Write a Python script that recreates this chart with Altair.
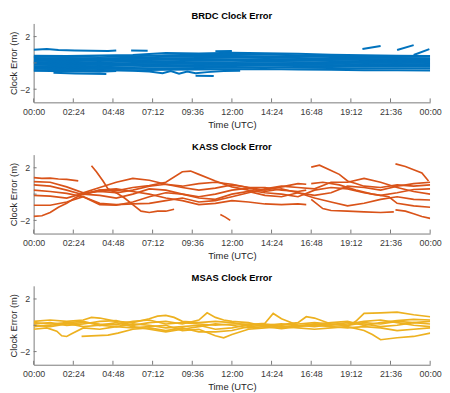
import altair as alt
import pandas as pd

# ---------------- data ----------------
X_TICKS = [0, 2.4, 4.8, 7.2, 9.6, 12, 14.4, 16.8, 19.2, 21.6, 24]
Y_TICKS = [-2, 0, 2]

BAND_HOURS = [0, 2, 4, 6, 8, 10, 12, 14, 16, 18, 20, 22, 24]
BRDC_B01 = [0.55, 0.52, 0.56, 0.60, 0.75, 0.72, 0.78, 0.74, 0.70, 0.62, 0.58, 0.55, 0.52]
BRDC_B02 = [0.45, 0.48, 0.44, 0.50, 0.58, 0.62, 0.60, 0.64, 0.58, 0.52, 0.50, 0.46, 0.48]
BRDC_B03 = [0.35, 0.38, 0.34, 0.40, 0.46, 0.50, 0.52, 0.48, 0.50, 0.44, 0.40, 0.38, 0.36]
BRDC_B04 = [0.25, 0.22, 0.28, 0.30, 0.36, 0.38, 0.40, 0.42, 0.38, 0.34, 0.30, 0.28, 0.30]
BRDC_B05 = [0.15, 0.18, 0.14, 0.20, 0.24, 0.28, 0.26, 0.30, 0.28, 0.24, 0.22, 0.18, 0.20]
BRDC_B06 = [0.05, 0.08, 0.04, 0.10, 0.12, 0.16, 0.18, 0.16, 0.18, 0.14, 0.10, 0.12, 0.10]
BRDC_B07 = [-0.05, -0.02, -0.06, 0.00, 0.02, 0.05, 0.06, 0.08, 0.06, 0.04, 0.00, 0.02, 0.00]
BRDC_B08 = [-0.15, -0.12, -0.16, -0.10, -0.08, -0.05, -0.04, -0.02, -0.04, -0.06, -0.10, -0.08, -0.10]
BRDC_B09 = [-0.25, -0.22, -0.26, -0.20, -0.18, -0.16, -0.14, -0.12, -0.14, -0.16, -0.20, -0.18, -0.20]
BRDC_B10 = [-0.35, -0.32, -0.36, -0.32, -0.28, -0.26, -0.24, -0.22, -0.24, -0.26, -0.30, -0.28, -0.30]
BRDC_B11 = [-0.45, -0.42, -0.46, -0.44, -0.40, -0.38, -0.36, -0.34, -0.36, -0.38, -0.42, -0.40, -0.42]
BRDC_B12 = [-0.55, -0.52, -0.56, -0.55, -0.52, -0.50, -0.48, -0.46, -0.50, -0.52, -0.56, -0.55, -0.58]

BRDC_O1 = [(0, 1.0), (0.8, 1.06), (1.5, 0.98), (2.5, 0.95), (3.5, 0.92), (4.5, 0.9), (5.0, 0.95)]
BRDC_O2 = [(5.9, 0.95), (6.9, 0.92)]
BRDC_O3 = [(0, -0.6), (1, -0.62), (2, -0.65), (3, -0.65), (4, -0.68), (5, -0.62)]
BRDC_O4 = [(1.2, -0.75), (2.5, -0.8), (3.5, -0.82), (4.4, -0.85)]
BRDC_O5 = [(5.0, -0.55), (6.0, -0.6), (7.0, -0.65), (7.8, -0.78), (8.3, -0.62), (8.8, -0.82),
           (9.3, -0.65), (9.8, -0.78), (10.5, -0.7), (11.5, -0.62), (12.5, -0.6)]
BRDC_O6 = [(9.8, -0.98), (10.9, -1.0)]
BRDC_O7 = [(11.0, 0.88), (12.0, 0.9)]
BRDC_O8 = [(19.9, 1.06), (21.0, 1.28)]
BRDC_O9 = [(22.0, 0.98), (23.0, 1.35)]
BRDC_O10 = [(23.0, 0.6), (23.95, 1.05)]

KASS_1 = [(0, 1.25), (0.5, 1.2), (1, 1.22), (1.5, 1.15), (2, 1.12), (2.7, 1.0)]
KASS_2 = [(0, 0.95), (1, 0.9), (2, 0.55), (3, 0.1), (4, 0.5), (5, 0.9), (6, 1.2), (7, 1.05),
          (8, 0.75), (9, 0.5), (10, 0.3), (11, 0.45), (12, 0.7), (13, 0.5), (14, 0.3),
          (15, 0.55), (16, 0.8), (16.5, 0.75)]
KASS_3 = [(0, 0.7), (1, 0.6), (2, 0.3), (3, -0.05), (4, 0.3), (5, 0.25), (6, 0.5), (7, 0.65),
          (8, 0.9), (9, 1.7), (9.5, 1.75), (10, 1.5), (11, 1.0), (12, 0.55), (13, 0.3), (14, 0.1),
          (15, 0.0), (16, -0.2), (17, 0.3), (18, 0.5), (19, 0.4), (20, 0.1), (21, -0.1), (22, 0.1),
          (23, 0.35), (24, 0.4)]
KASS_4 = [(0, 0.3), (1, 0.2), (2, 0.05), (3, -0.2), (4, -0.7), (5, -0.8), (6, -0.75), (7, -0.7),
          (8, -0.5), (9, -0.3), (10, -0.6), (11, -0.5), (12, -0.2), (13, 0.1), (14, 0.4), (15, 0.6),
          (16, 0.5), (17, 0.4), (18, 0.9), (19, 0.9), (20, 1.2), (21, 0.9), (22, 0.5), (23, 0.2),
          (24, 0.0)]
KASS_5 = [(0, -0.1), (1, -0.15), (2, -0.3), (3, 0.05), (4, 0.2), (5, 0.1), (5.5, -0.3), (6, -0.8),
          (6.5, -1.3), (7, -1.4), (7.5, -1.3), (8, -1.3), (8.5, -1.15)]
KASS_6 = [(0, -1.7), (0.5, -1.65), (1, -1.4), (1.5, -1.0), (2, -0.7), (2.5, -0.3), (3, 0.0), (4, 0.3),
          (5, 0.4), (6, 0.2), (7, 0.0), (8, -0.3), (9, -0.5), (10, -0.8), (11, -0.7), (12, -0.5),
          (13, -0.6), (14, -0.75), (15, -0.8), (16, -0.75), (16.5, -0.8)]
KASS_7 = [(0, -0.85), (1, -0.85), (2, -0.6), (3, -0.2), (4, -0.8), (5, -0.85), (6, -0.6), (7, -0.2),
          (8, 0.1), (9, 0.0), (10, -0.3), (11, -0.4), (12, 0.0), (13, 0.2), (14, -0.1), (15, -0.2),
          (16, 0.1), (17, -0.3), (18, -0.6), (19, -0.9), (20, -0.7), (21, -0.4), (22, -0.2),
          (23, -0.4), (24, -0.45)]
KASS_8 = [(3.5, 2.15), (3.8, 1.7), (4.2, 1.0), (4.5, 0.4), (5, 0.1), (6, 0.3), (7, 0.6), (8, 0.75),
          (9, 0.6), (10, 0.8), (11, 0.9), (12, 0.75), (13, 0.5), (14, 0.5), (15, 0.3), (16, 0.2),
          (16.5, 0.3)]
KASS_9 = [(3, 0.0), (4, -0.1), (5, -0.3), (6, 0.0), (7, 0.4), (8, 0.3), (9, 0.0), (10, -0.2),
          (11, 0.0), (12, 0.3), (13, 0.45), (14, 0.2), (15, 0.4), (16, 0.1), (17, -0.1), (18, 0.1),
          (19, 0.6), (20, 0.5), (21, 0.3), (22, 0.6), (23, 0.8), (24, 0.9)]
KASS_10 = [(11.3, -1.55), (11.6, -1.75), (11.9, -2.0)]
KASS_12 = [(16.8, 2.05), (17.3, 2.2), (18, 1.8), (18.5, 1.5), (19, 1.0), (19.5, 0.8), (20, 0.6),
           (21, 0.5), (22, 0.7), (23, 0.6), (24, 0.7)]
KASS_13 = [(16.8, -0.4), (17.5, -1.1), (18, -1.25), (19, -1.3), (20, -1.35), (21, -1.4), (21.8, -1.35)]
KASS_14 = [(21.9, -1.2), (22.5, -1.3), (23, -1.5), (23.5, -1.7), (24, -1.85)]
KASS_15 = [(21.9, 2.3), (22.5, 2.1), (23, 1.85), (23.5, 1.6), (23.9, 1.0)]
KASS_16 = [(16.8, 0.8), (17.5, 0.9), (18.5, 0.7), (19.5, 0.3), (20.5, 0.0), (21.5, -0.2), (22, -0.7),
           (23, -0.9), (24, -1.0)]

MSAS_1 = [(0, 0.3), (1, 0.4), (2, 0.3), (3, 0.4), (3.5, 0.6), (4, 0.55), (5, 0.3), (6, 0.2), (7, 0.5),
          (7.5, 0.7), (8, 0.75), (8.5, 0.6), (9, 0.3), (10, 0.2), (11, 0.3), (12, 0.2), (13, 0.0),
          (14, 0.1), (15, 0.0), (16, 0.1), (17, 0.2), (18, 0.1), (19, 0.0), (20, 0.2), (21, 0.1),
          (22, 0.3), (23, 0.2), (24, 0.3)]
MSAS_2 = [(0, 0.1), (1, 0.2), (2, 0.0), (3, 0.1), (4, 0.3), (5, 0.35), (6, 0.0), (7, 0.2), (8, 0.3),
          (9, 0.1), (10, 0.4), (10.5, 0.95), (11, 0.6), (11.5, 0.4), (12, 0.3), (13, 0.2), (14, -0.1),
          (15, 0.05), (16, 0.2), (16.5, 0.65), (17, 0.55), (18, 0.1), (19, -0.05), (19.5, 0.3),
          (20, 0.9), (21, 0.95), (22, 1.0), (23, 0.8), (24, 0.65)]
MSAS_3 = [(0, -0.1), (1, 0.0), (2, 0.15), (3, -0.1), (4, 0.0), (5, -0.1), (6, 0.1), (7, 0.0),
          (8, -0.2), (9, -0.1), (10, 0.0), (11, -0.3), (12, -0.2), (13, 0.05), (14, 0.15),
          (14.5, 0.9), (15, 0.5), (16, 0.0), (17, -0.1), (18, 0.05), (19, 0.2), (20, 0.1),
          (21, -0.1), (22, 0.0), (23, 0.2), (24, 0.1)]
MSAS_4 = [(0, -0.3), (0.8, -0.2), (1.4, -0.45), (1.7, -0.8), (2.0, -0.85), (2.3, -0.65), (3, -0.2),
          (4, -0.3), (5, -0.1), (6, -0.2), (7, -0.1), (8, 0.0), (9, -0.4), (10, -0.3), (11, -0.8),
          (11.5, -0.95), (12, -0.7), (13, -0.3), (14, -0.2), (15, -0.1), (16, -0.2), (17, -0.3),
          (18, -0.2), (19, -0.1), (20, -0.4), (20.5, -0.7), (21, -1.1), (22, -0.95), (23, -0.85),
          (24, -0.6)]
MSAS_5 = [(2.9, -0.85), (3.5, -0.8), (4.5, -0.75), (5.1, -0.6), (6, -0.3), (7, -0.2), (8, -0.4),
          (9, -0.2), (10, -0.5), (11, -0.5), (12, -0.4), (13, -0.1), (14, 0.0), (15, -0.15),
          (16, -0.05), (17, 0.0), (18, -0.1), (19, -0.2), (20, -0.1), (21, -0.2), (22, -0.4),
          (23, -0.3), (24, -0.2)]
MSAS_6 = [(0, 0.0), (1, -0.1), (2, 0.1), (3, 0.2), (4, 0.1), (5, 0.05), (6, 0.3), (7, 0.4), (8, 0.1),
          (9, 0.2), (10, 0.1), (11, 0.0), (12, 0.1), (13, 0.1), (14, 0.0), (15, 0.1), (16, -0.05),
          (17, 0.1), (18, 0.0), (19, 0.1), (20, 0.3), (21, 0.4), (22, 0.2), (23, 0.0), (24, -0.1)]
MSAS_7 = [(0, 0.2), (1, 0.1), (2, 0.2), (3, 0.3), (4, 0.0), (5, 0.2), (6, -0.1), (7, -0.3), (8, -0.5),
          (9, -0.3), (10, -0.1), (11, 0.1), (12, 0.0), (13, -0.2), (14, -0.1), (15, -0.25),
          (16, -0.1), (17, 0.05), (18, 0.2), (19, 0.3), (20, 0.0), (21, 0.2), (22, 0.35),
          (23, 0.45), (24, 0.4)]

# ---------------- build tables ----------------
def table(series):
    rows = []
    for name, pairs in series.items():
        for t, v in pairs:
            rows.append({"s": name, "t": t, "v": v})
    return pd.DataFrame(rows)

brdc_band = [BRDC_B01, BRDC_B02, BRDC_B03, BRDC_B04, BRDC_B05, BRDC_B06,
             BRDC_B07, BRDC_B08, BRDC_B09, BRDC_B10, BRDC_B11, BRDC_B12]
brdc_series = {f"b{i}": list(zip(BAND_HOURS, vals)) for i, vals in enumerate(brdc_band)}
for i, seg in enumerate([BRDC_O1, BRDC_O2, BRDC_O3, BRDC_O4, BRDC_O5, BRDC_O6,
                         BRDC_O7, BRDC_O8, BRDC_O9, BRDC_O10]):
    brdc_series[f"o{i}"] = seg
kass_series = {f"k{i}": s for i, s in enumerate([KASS_1, KASS_2, KASS_3, KASS_4, KASS_5, KASS_6,
                                                 KASS_7, KASS_8, KASS_9, KASS_10, KASS_12,
                                                 KASS_13, KASS_14, KASS_15, KASS_16])}
msas_series = {f"m{i}": s for i, s in enumerate([MSAS_1, MSAS_2, MSAS_3, MSAS_4, MSAS_5,
                                                 MSAS_6, MSAS_7])}

xtick_df = pd.DataFrame({"t": X_TICKS})
ytick_df = pd.DataFrame({"v": Y_TICKS})

W, H = 402, 80
AX = "#7a7a7a"
LBL = "#3a3a3a"
FONT = "Liberation Sans"


def panel(df, color, title, sw):
    xs = alt.Scale(domain=[0, 24], nice=False, zero=False)
    ys = alt.Scale(domain=[-3, 3], nice=False, zero=False)
    x_axis = alt.Axis(values=X_TICKS, labelExpr="utcFormat(round(datum.value*60)*60000, '%H:%M')",
                      ticks=False, tickSize=0, grid=False, labelPadding=5, titlePadding=3,
                      labelFontSize=9, titleFontSize=9.5, labelColor=LBL, titleColor="#262626",
                      domainColor=AX, labelFont=FONT, titleFont=FONT, titleFontWeight="normal",
                      labelFlush=False)
    y_axis = alt.Axis(values=Y_TICKS, ticks=False, tickSize=0, grid=False, labelPadding=4,
                      titlePadding=1, labelFontSize=9, titleFontSize=9.5, labelColor=LBL,
                      titleColor="#262626", domainColor=AX, labelFont=FONT, titleFont=FONT,
                      titleFontWeight="normal")
    lines = alt.Chart(df).mark_line(color=color, strokeWidth=sw, clip=True).encode(
        x=alt.X("t:Q", scale=xs, axis=x_axis, title="Time (UTC)"),
        y=alt.Y("v:Q", scale=ys, axis=y_axis, title="Clock Error (m)"),
        detail="s:N",
    )
    xt = alt.Chart(xtick_df).mark_rule(color=AX, strokeWidth=1).encode(
        x=alt.X("t:Q", scale=xs, title="Time (UTC)"),
        y=alt.value(H), y2=alt.value(H - 4),
    )
    yt = alt.Chart(ytick_df).mark_rule(color=AX, strokeWidth=1).encode(
        y=alt.Y("v:Q", scale=ys, title="Clock Error (m)"),
        x=alt.value(0), x2=alt.value(3),
    )
    return alt.layer(lines, xt, yt).properties(
        width=W, height=H,
        title=alt.TitleParams(title, fontSize=9.5, fontWeight="bold", font=FONT,
                              color="#000000", anchor="middle", offset=3),
    )


chart = alt.vconcat(
    panel(table(brdc_series), "#0072BD", "BRDC Clock Error", 2.0),
    panel(table(kass_series), "#D95319", "KASS Clock Error", 1.7),
    panel(table(msas_series), "#EDB120", "MSAS Clock Error", 1.7),
    spacing=13,
).properties(
    padding={"left": 0, "top": 0, "right": 0, "bottom": 0},
    background="white",
).configure_view(stroke="transparent", strokeWidth=0)

chart.save("out.html", embed_options={"renderer": "svg", "actions": False})
